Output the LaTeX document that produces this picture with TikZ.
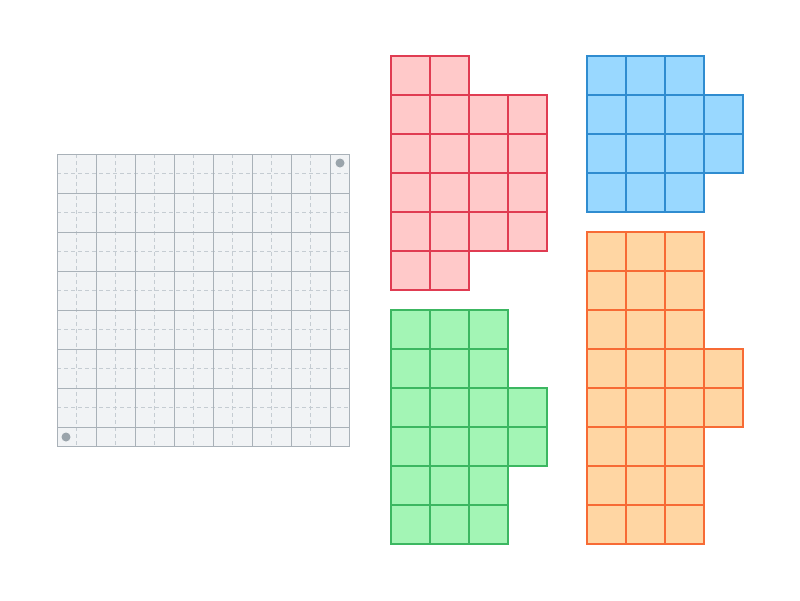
\documentclass[tikz,border=0pt]{standalone}
\usepackage{tikz}

\definecolor{boardfill}{HTML}{F1F3F5}
\definecolor{boardline}{HTML}{A9B1B8}
\definecolor{boarddash}{HTML}{C5CCD2}
\definecolor{pegcolor}{HTML}{9AA4AB}
\definecolor{redfill}{HTML}{FFC9C9}
\definecolor{redline}{HTML}{E03C52}
\definecolor{bluefill}{HTML}{99D8FF}
\definecolor{blueline}{HTML}{2F8CD0}
\definecolor{greenfill}{HTML}{A3F5B5}
\definecolor{greenline}{HTML}{3CB761}
\definecolor{orangefill}{HTML}{FFD6A3}
\definecolor{orangeline}{HTML}{F76B35}

\tikzset{
  redcell/.style={fill=redfill, draw=redline, line width=1.1pt},
  bluecell/.style={fill=bluefill, draw=blueline, line width=1.1pt},
  greencell/.style={fill=greenfill, draw=greenline, line width=1.1pt},
  orangecell/.style={fill=orangefill, draw=orangeline, line width=1.1pt},
  halfline/.style={draw=boarddash, line width=0.8pt, dash pattern=on 4pt off 3pt},
  fullline/.style={draw=boardline, line width=0.9pt}
}

\begin{document}
\begin{tikzpicture}[x=1pt,y=-1pt]
\useasboundingbox (0,0) rectangle (800,600);

% board
\fill[boardfill] (57,154) rectangle (349,446);
\foreach \k in {0,...,6} {
  \draw[halfline] ({76.5+39*\k},154) -- ({76.5+39*\k},446);
  \draw[halfline] (57,{173.5+39*\k}) -- (349,{173.5+39*\k});
}
\foreach \k in {0,...,6} {
  \draw[fullline] ({96+39*\k},154) -- ({96+39*\k},446);
  \draw[fullline] (57,{193+39*\k}) -- (349,{193+39*\k});
}
\draw[fullline] (57,154) rectangle (349,446);
\fill[pegcolor] (340,163) circle (4.5);
\fill[pegcolor] (66,437) circle (4.5);

% red piece
\foreach \r/\n in {0/1,1/3,2/3,3/3,4/3,5/1}
  \foreach \c in {0,...,\n}
    \draw[redcell] ({391+39*\c},{56+39*\r}) rectangle ++(39,39);

% blue piece
\foreach \r/\n in {0/2,1/3,2/3,3/2}
  \foreach \c in {0,...,\n}
    \draw[bluecell] ({587+39*\c},{56+39*\r}) rectangle ++(39,39);

% green piece
\foreach \r/\n in {0/2,1/2,2/3,3/3,4/2,5/2}
  \foreach \c in {0,...,\n}
    \draw[greencell] ({391+39*\c},{310+39*\r}) rectangle ++(39,39);

% orange piece
\foreach \r/\n in {0/2,1/2,2/2,3/3,4/3,5/2,6/2,7/2}
  \foreach \c in {0,...,\n}
    \draw[orangecell] ({587+39*\c},{232+39*\r}) rectangle ++(39,39);
\end{tikzpicture}
\end{document}
